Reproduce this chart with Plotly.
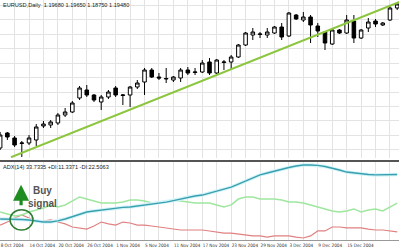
import plotly.graph_objects as go
from plotly.subplots import make_subplots

# ---- data ----
dates = ["8 Oct", "11 Oct", "12 Oct", "13 Oct", "14 Oct", "15 Oct", "18 Oct", "19 Oct", "20 Oct", "21 Oct",
         "22 Oct", "25 Oct", "26 Oct", "27 Oct", "28 Oct", "29 Oct", "1 Nov", "2 Nov", "3 Nov", "4 Nov",
         "5 Nov", "8 Nov", "9 Nov", "10 Nov", "11 Nov", "12 Nov", "15 Nov", "16 Nov", "17 Nov", "18 Nov",
         "19 Nov", "22 Nov", "23 Nov", "24 Nov", "25 Nov", "26 Nov", "29 Nov", "30 Nov", "1 Dec", "2 Dec",
         "3 Dec", "6 Dec", "7 Dec", "8 Dec", "9 Dec", "10 Dec", "13 Dec", "14 Dec", "15 Dec", "16 Dec",
         "17 Dec", "20 Dec", "21 Dec", "22 Dec", "23 Dec", "24 Dec"]

opens = [1.2466, 1.2586, 1.2546, 1.2502, 1.2506, 1.2530, 1.2642, 1.2650, 1.2666, 1.2730,
         1.2754, 1.2866, 1.2930, 1.2890, 1.2834, 1.2874, 1.2946, 1.2886, 1.2890, 1.2954,
         1.2994, 1.3090, 1.3034, 1.3018, 1.3010, 1.3026, 1.3090, 1.3070, 1.3074, 1.3154,
         1.3066, 1.3150, 1.3154, 1.3194, 1.3290, 1.3370, 1.3374, 1.3370, 1.3386, 1.3434,
         1.3362, 1.3530, 1.3490, 1.3514, 1.3442, 1.3394, 1.3298, 1.3410, 1.3386, 1.3482,
         1.3346, 1.3426, 1.3482, 1.3450, 1.3490, 1.3586]
highs = [1.2594, 1.2594, 1.2562, 1.2522, 1.2570, 1.2658, 1.2682, 1.2690, 1.2746, 1.2786,
         1.2842, 1.2962, 1.2970, 1.2898, 1.2890, 1.2930, 1.2962, 1.2898, 1.2962, 1.3010,
         1.3106, 1.3106, 1.3066, 1.3106, 1.3042, 1.3106, 1.3114, 1.3106, 1.3170, 1.3186,
         1.3178, 1.3170, 1.3210, 1.3298, 1.3394, 1.3426, 1.3394, 1.3426, 1.3442, 1.3466,
         1.3554, 1.3538, 1.3554, 1.3530, 1.3466, 1.3402, 1.3418, 1.3418, 1.3530, 1.3530,
         1.3418, 1.3506, 1.3498, 1.3474, 1.3602, 1.3634]
lows = [1.2450, 1.2530, 1.2474, 1.2394, 1.2490, 1.2482, 1.2626, 1.2626, 1.2650, 1.2714,
        1.2746, 1.2850, 1.2874, 1.2834, 1.2770, 1.2858, 1.2874, 1.2810, 1.2794, 1.2938,
        1.2890, 1.3026, 1.3010, 1.2986, 1.2994, 1.2994, 1.3050, 1.3050, 1.3066, 1.3050,
        1.3058, 1.3090, 1.3090, 1.3186, 1.3282, 1.3330, 1.3346, 1.3346, 1.3378, 1.3330,
        1.3354, 1.3490, 1.3474, 1.3306, 1.3354, 1.3250, 1.3290, 1.3378, 1.3378, 1.3306,
        1.3338, 1.3394, 1.3434, 1.3442, 1.3482, 1.3570]
closes = [1.2570, 1.2554, 1.2490, 1.2506, 1.2546, 1.2634, 1.2658, 1.2674, 1.2730, 1.2754,
          1.2826, 1.2946, 1.2890, 1.2850, 1.2874, 1.2914, 1.2890, 1.2890, 1.2954, 1.2986,
          1.3090, 1.3034, 1.3026, 1.3022, 1.3034, 1.3090, 1.3066, 1.3074, 1.3146, 1.3066,
          1.3170, 1.3154, 1.3194, 1.3290, 1.3386, 1.3394, 1.3378, 1.3394, 1.3434, 1.3354,
          1.3546, 1.3498, 1.3514, 1.3450, 1.3402, 1.3306, 1.3410, 1.3386, 1.3490, 1.3346,
          1.3410, 1.3474, 1.3458, 1.3466, 1.3586, 1.3618]

trend_x = [1.5, 56.0]
trend_y = [1.2392, 1.3650]

adx = [10.0, 10.0, 10.0, 9.7, 9.5, 9.0, 8.4, 8.4, 9.0, 10.0, 11.1, 12.6, 13.7, 14.2, 14.7, 15.3,
       15.5, 16.1, 16.3, 16.8, 17.4, 17.9, 18.4, 18.9, 19.7, 20.5, 21.6, 22.1, 22.6, 23.7, 24.7,
       25.8, 26.8, 28.4, 30.0, 31.6, 33.2, 34.2, 35.3, 36.3, 37.1, 37.9, 38.4, 38.4, 38.2, 37.6,
       36.8, 35.8, 34.7, 34.2, 33.7, 33.4, 33.2, 33.2, 33.2, 33.4]
plus_di = [13.7, 12.6, 11.6, 12.1, 13.7, 14.7, 15.8, 17.4, 16.3, 17.4, 19.5, 21.6, 20.5, 19.5,
           18.4, 18.4, 18.4, 18.9, 20.0, 20.0, 19.5, 18.4, 18.4, 18.9, 20.0, 19.5, 18.9, 18.4,
           18.4, 18.4, 17.4, 16.3, 17.4, 20.5, 21.6, 21.6, 20.5, 20.5, 20.5, 20.0, 18.9, 18.9,
           18.4, 17.4, 16.3, 15.3, 14.2, 13.7, 14.2, 15.3, 13.7, 14.7, 15.3, 14.2, 16.3, 18.4]
minus_di = [6.8, 8.4, 10.5, 12.1, 10.5, 8.9, 8.9, 9.5, 8.4, 7.4, 5.8, 5.3, 4.7, 6.3, 8.4, 7.4,
            6.8, 8.4, 7.9, 6.8, 6.8, 6.3, 5.8, 5.3, 4.7, 4.2, 4.2, 4.2, 4.2, 3.7, 3.2, 2.6, 2.6,
            2.1, 1.6, 1.1, 1.1, 0.5, 1.1, 1.1, 1.1, 0.5, 0.0, 1.1, 3.7, 3.7, 5.8, 5.8, 5.3, 5.3,
            5.3, 4.7, 4.2, 4.2, 3.7, 3.2]

tick_every = 4
title_text = "EURUSD,Daily  1.19680 1.19650 1.18750 1.19480"
adx_text = "ADX(14) 33.7335 +DI:11.3371 -DI:22.5063"

# ---- figure ----
idx = list(range(len(dates)))
tickvals = [i for i in idx if i % 2 == 0]
ticktext = [(dates[i] + " 2004") if i % tick_every == 0 else "" for i in tickvals]

fig = make_subplots(rows=2, cols=1, shared_xaxes=True)

fig.add_trace(go.Candlestick(
    x=idx, open=opens, high=highs, low=lows, close=closes,
    increasing=dict(line=dict(color="black", width=1), fillcolor="white"),
    decreasing=dict(line=dict(color="black", width=1), fillcolor="black"),
    whiskerwidth=0, showlegend=False), row=1, col=1)

fig.add_trace(go.Scatter(x=trend_x, y=trend_y, mode="lines",
                         line=dict(color="#8cc63f", width=2), showlegend=False), row=1, col=1)

fig.add_trace(go.Scatter(x=idx, y=minus_di, mode="lines",
                         line=dict(color="#e08080", width=1.2), showlegend=False), row=2, col=1)
fig.add_trace(go.Scatter(x=idx, y=plus_di, mode="lines",
                         line=dict(color="#9fe69f", width=1.5), showlegend=False), row=2, col=1)
fig.add_trace(go.Scatter(x=idx, y=adx, mode="lines",
                         line=dict(color="#d2f4f8", width=3.5), showlegend=False), row=2, col=1)
fig.add_trace(go.Scatter(x=idx, y=adx, mode="lines",
                         line=dict(color="#3a9fae", width=1.4), showlegend=False), row=2, col=1)

grid = "#e3e3e3"
xr = [-0.02, 55.25]
fig.update_layout(
    width=399, height=250,
    margin=dict(l=0, r=0, t=0, b=10),
    paper_bgcolor="white", plot_bgcolor="white",
    font=dict(family="Liberation Sans, Arial", size=6, color="#333"),
    xaxis=dict(range=xr, rangeslider=dict(visible=False), tickmode="array", tickvals=tickvals,
               showticklabels=False, showgrid=True, gridcolor=grid, gridwidth=1, zeroline=False),
    xaxis2=dict(range=xr, tickmode="array", tickvals=tickvals, ticktext=ticktext,
                ticklabelposition="outside right", ticks="", showgrid=True, gridcolor=grid,
                tickangle=0, automargin=False,
                tickfont=dict(size=4.6, color="#333", family="DejaVu Sans Condensed, Liberation Sans Narrow, Arial"),
                zeroline=False, showline=True, linecolor="#999", linewidth=1),
    yaxis=dict(domain=[0.3417, 1], range=[1.2386, 1.3650], showticklabels=False,
               showgrid=True, gridcolor=grid, tick0=1.3610, dtick=0.0116, zeroline=False),
    yaxis2=dict(domain=[0, 0.325], range=[-1.05, 40.0], showticklabels=False,
                showgrid=False, zeroline=False),
)

# separator between panels
fig.add_shape(type="line", xref="paper", yref="paper", x0=0, x1=1, y0=0.329, y1=0.329,
              line=dict(color="#555", width=2))

# circle around crossing
fig.add_shape(type="circle", xref="x2", yref="y2", x0=1.37, x1=4.55, y0=4.2, y1=14.9,
              line=dict(color="#2e7d32", width=1.5))

# buy arrow
fig.add_annotation(x=2.9, y=28.0, xref="x2", yref="y2", ax=0, ay=22, text="",
                   showarrow=True, arrowhead=2, arrowsize=1.0, arrowwidth=3.2,
                   arrowcolor="#1e8c1e")
fig.add_annotation(x=5.9, y=21.6, xref="x2", yref="y2", text="<b>Buy<br>signal</b>",
                   showarrow=False, font=dict(size=10, color="#555", family="Liberation Sans, Arial"),
                   xanchor="center", yanchor="middle")

# panel labels
fig.add_annotation(x=0, y=1, xref="paper", yref="paper", text=title_text, showarrow=False,
                   xanchor="left", yanchor="top", xshift=1, yshift=0,
                   font=dict(size=5.6, color="#222"))
fig.add_annotation(x=0, y=0.325, xref="paper", yref="paper", text=adx_text, showarrow=False,
                   xanchor="left", yanchor="top", xshift=1, yshift=0,
                   font=dict(size=5.6, color="#222"))

fig.write_html("out.html")
